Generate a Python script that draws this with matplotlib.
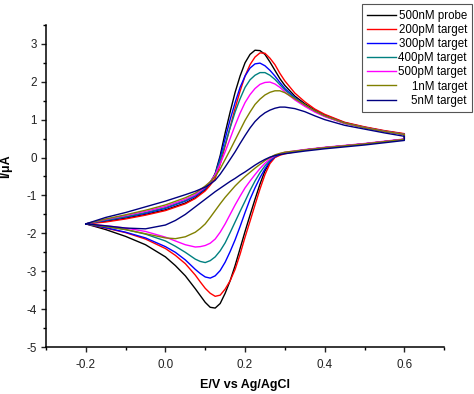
import numpy as np
import matplotlib
matplotlib.use("Agg")
import matplotlib.pyplot as plt
from matplotlib.ticker import MultipleLocator, FormatStrFormatter

plt.rcParams['font.family'] = ['Liberation Sans', 'DejaVu Sans']
plt.rcParams['axes.unicode_minus'] = False

# ---------------- data ----------------
labels = ['500nM probe', '200pM target', '300pM target', '400pM target',
          '500pM target', '1nM target', '5nM target']
colors = ['#000000', '#ff0000', '#0000ff', '#008080', '#ff00ff', '#808000', '#000080']

# forward (anodic) sweep potentials, V
E_fwd = [-0.2, -0.15, -0.1, -0.05, 0.0, 0.05, 0.075, 0.1, 0.1125, 0.125, 0.1375,
         0.15, 0.1625, 0.175, 0.1875, 0.2, 0.2125, 0.225, 0.2375, 0.25, 0.2625,
         0.275, 0.2875, 0.3, 0.325, 0.35, 0.375, 0.4, 0.45, 0.5, 0.55, 0.6]
# reverse (cathodic) sweep potentials, V
E_rev = [0.6, 0.55, 0.5, 0.45, 0.4, 0.35, 0.3, 0.2875, 0.275, 0.2625, 0.25, 0.2375,
         0.225, 0.2125, 0.2, 0.1875, 0.175, 0.1625, 0.15, 0.1375, 0.125, 0.1125,
         0.1, 0.0875, 0.075, 0.05, 0.025, 0.0, -0.05, -0.1, -0.15, -0.2]

# current, uA (forward sweep)
fwd_probe = [-1.75, -1.68, -1.60, -1.50, -1.38, -1.20, -1.06, -0.85, -0.68, -0.42, 0.05,
             0.65, 1.20, 1.72, 2.15, 2.50, 2.72, 2.83, 2.82, 2.72, 2.52,
             2.30, 2.08, 1.90, 1.62, 1.42, 1.25, 1.12, 0.92, 0.80, 0.70, 0.62]
fwd_200p = [-1.75, -1.70, -1.62, -1.52, -1.40, -1.22, -1.08, -0.88, -0.73, -0.55, -0.18,
            0.30, 0.80, 1.30, 1.75, 2.15, 2.45, 2.65, 2.76, 2.75, 2.62,
            2.45, 2.22, 2.02, 1.70, 1.47, 1.28, 1.14, 0.93, 0.81, 0.71, 0.63]
fwd_300p = [-1.75, -1.66, -1.57, -1.47, -1.34, -1.15, -1.02, -0.82, -0.66, -0.45, 0.00,
            0.50, 1.00, 1.45, 1.85, 2.15, 2.36, 2.47, 2.49, 2.42, 2.30,
            2.15, 1.98, 1.82, 1.58, 1.39, 1.23, 1.10, 0.91, 0.79, 0.69, 0.61]
fwd_400p = [-1.75, -1.65, -1.56, -1.45, -1.32, -1.13, -1.00, -0.80, -0.65, -0.45, -0.07,
            0.35, 0.78, 1.20, 1.55, 1.85, 2.05, 2.17, 2.24, 2.24, 2.17,
            2.06, 1.92, 1.78, 1.56, 1.37, 1.22, 1.09, 0.90, 0.79, 0.69, 0.61]
fwd_500p = [-1.75, -1.63, -1.53, -1.42, -1.29, -1.10, -0.98, -0.78, -0.64, -0.45, -0.17,
            0.15, 0.50, 0.85, 1.17, 1.45, 1.66, 1.82, 1.93, 1.98, 1.99,
            1.94, 1.85, 1.73, 1.52, 1.35, 1.20, 1.08, 0.90, 0.79, 0.69, 0.61]
fwd_1n = [-1.75, -1.62, -1.51, -1.39, -1.25, -1.06, -0.94, -0.75, -0.64, -0.50, -0.30,
          -0.05, 0.20, 0.46, 0.72, 0.98, 1.20, 1.40, 1.54, 1.65, 1.72,
          1.76, 1.76, 1.71, 1.55, 1.39, 1.23, 1.10, 0.91, 0.79, 0.69, 0.61]
fwd_5n = [-1.75, -1.58, -1.45, -1.30, -1.15, -0.98, -0.89, -0.78, -0.70, -0.60, -0.44,
          -0.25, -0.05, 0.15, 0.37, 0.58, 0.78, 0.95, 1.08, 1.18, 1.25,
          1.30, 1.33, 1.33, 1.29, 1.21, 1.10, 1.00, 0.85, 0.75, 0.65, 0.56]

# current, uA (reverse sweep)
rev_probe = [0.48, 0.42, 0.36, 0.31, 0.26, 0.20, 0.12, 0.08, 0.01, -0.12, -0.35, -0.70,
             -1.10, -1.52, -1.95, -2.40, -2.85, -3.25, -3.58, -3.85, -3.97, -3.95,
             -3.82, -3.64, -3.46, -3.12, -2.85, -2.62, -2.30, -2.08, -1.90, -1.75]
rev_200p = [0.48, 0.42, 0.36, 0.31, 0.26, 0.20, 0.10, 0.06, 0.00, -0.16, -0.45, -0.83,
            -1.25, -1.68, -2.10, -2.55, -2.95, -3.25, -3.47, -3.63, -3.66, -3.58,
            -3.45, -3.28, -3.10, -2.80, -2.58, -2.40, -2.15, -1.98, -1.86, -1.75]
rev_300p = [0.48, 0.42, 0.36, 0.31, 0.26, 0.20, 0.12, 0.08, 0.02, -0.10, -0.30, -0.53,
            -0.80, -1.10, -1.45, -1.82, -2.17, -2.48, -2.76, -2.98, -3.12, -3.18,
            -3.15, -3.06, -2.95, -2.70, -2.50, -2.35, -2.12, -1.97, -1.85, -1.75]
rev_400p = [0.48, 0.42, 0.36, 0.31, 0.26, 0.20, 0.13, 0.09, 0.04, -0.07, -0.22, -0.40,
            -0.62, -0.87, -1.15, -1.42, -1.70, -1.98, -2.25, -2.46, -2.62, -2.72,
            -2.77, -2.74, -2.68, -2.50, -2.34, -2.20, -2.02, -1.90, -1.82, -1.75]
rev_500p = [0.49, 0.43, 0.37, 0.32, 0.27, 0.21, 0.14, 0.10, 0.05, -0.04, -0.15, -0.29,
            -0.45, -0.62, -0.80, -1.02, -1.25, -1.50, -1.75, -1.97, -2.15, -2.26,
            -2.32, -2.35, -2.36, -2.30, -2.20, -2.10, -1.95, -1.86, -1.80, -1.75]
rev_1n = [0.48, 0.42, 0.36, 0.31, 0.26, 0.20, 0.14, 0.11, 0.07, 0.00, -0.08, -0.18,
          -0.28, -0.39, -0.50, -0.62, -0.75, -0.90, -1.05, -1.22, -1.40, -1.58,
          -1.75, -1.87, -1.97, -2.09, -2.14, -2.12, -2.01, -1.90, -1.82, -1.75]
rev_5n = [0.45, 0.39, 0.33, 0.28, 0.23, 0.17, 0.10, 0.08, 0.05, 0.01, -0.05, -0.12,
          -0.20, -0.29, -0.38, -0.46, -0.55, -0.63, -0.72, -0.81, -0.90, -1.00,
          -1.10, -1.20, -1.30, -1.50, -1.66, -1.78, -1.88, -1.86, -1.80, -1.75]

fwd_all = [fwd_probe, fwd_200p, fwd_300p, fwd_400p, fwd_500p, fwd_1n, fwd_5n]
rev_all = [rev_probe, rev_200p, rev_300p, rev_400p, rev_500p, rev_1n, rev_5n]

# ---------------- figure ----------------
fig = plt.figure(figsize=(4.74, 3.94), dpi=100)
ax = fig.add_axes([0.097, 0.119, 0.840, 0.818])

for lab, col, f, r in zip(labels, colors, fwd_all, rev_all):
    x = np.concatenate([E_fwd, E_rev])
    y = np.concatenate([f, r])
    ax.plot(x, y, color=col, lw=1.0, label=lab, solid_joinstyle='round')

ax.set_xlim(-0.3, 0.7)
ax.set_ylim(-5, 3.5)
ax.xaxis.set_major_locator(MultipleLocator(0.2))
ax.xaxis.set_minor_locator(MultipleLocator(0.1))
ax.xaxis.set_major_formatter(FormatStrFormatter('%.1f'))
ax.yaxis.set_major_locator(MultipleLocator(1))
ax.yaxis.set_minor_locator(MultipleLocator(0.5))

for s in ['top', 'right']:
    ax.spines[s].set_visible(False)
for s in ['left', 'bottom']:
    ax.spines[s].set_linewidth(1.1)

ax.tick_params(which='major', direction='out', length=3.5, width=1.0,
               labelsize=8.4, colors='#222222', pad=3)
ax.tick_params(axis='x', which='major', pad=5)
ax.tick_params(which='minor', direction='out', length=2.5, width=1.0)

ax.set_xlabel('E/V vs Ag/AgCl', fontsize=9, fontweight='bold')
ax.set_ylabel('I/μA', fontsize=9, fontweight='bold')
ax.xaxis.set_label_coords(0.5, -0.10)
ax.yaxis.set_label_coords(-0.085, 0.56)

leg = fig.legend(loc='lower left', bbox_to_anchor=(0.764, 0.716),
                 fontsize=8.3, frameon=True, fancybox=False, framealpha=1,
                 edgecolor='#555555', handlelength=2.5, handletextpad=0.2,
                 labelspacing=0.19, borderpad=0.45, borderaxespad=0)
leg.get_frame().set_linewidth(0.8)
for h in leg.get_lines():
    h.set_linewidth(1.0)

# right-align the legend labels
fig.canvas.draw()
renderer = fig.canvas.get_renderer()
texts = leg.get_texts()
widths = [t.get_window_extent(renderer).width for t in texts]
wmax = max(widths)
for t, w in zip(texts, widths):
    t.set_position((wmax - w, 0))

fig.savefig('out.png', dpi=100)
